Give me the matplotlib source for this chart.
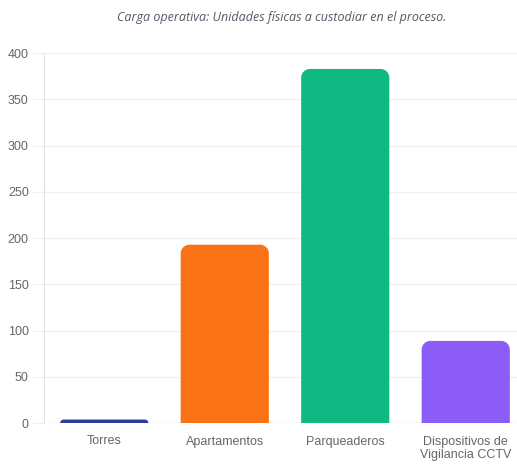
import matplotlib.pyplot as plt
import numpy as np
from matplotlib.path import Path
from matplotlib.patches import PathPatch

plt.rcParams['font.family'] = ['Liberation Sans', 'DejaVu Sans']

categorias = ['Torres', 'Apartamentos', 'Parqueaderos', 'Dispositivos de\nVigilancia CCTV']
unidades = [3, 192, 382, 88]
colores = ['#2c3f94', '#f97316', '#10b981', '#8b5cf6']
titulo = 'Carga operativa: Unidades físicas a custodiar en el proceso.'

W, H = 517, 466
fig = plt.figure(figsize=(W / 100, H / 100), dpi=100)
ax = fig.add_axes([44 / W, (H - 423) / H, 482 / W, 370 / H])

x = np.arange(len(categorias))
ax.set_xlim(-0.5, len(categorias) - 0.5)
ax.set_ylim(0, 400)

# px -> data units, for the corner radius
sx = (len(categorias)) / 482.0
sy = 400 / 370.0
r_px = 8
ancho = 0.72


def barra_redondeada(xc, h, color):
    x0, x1 = xc - ancho / 2, xc + ancho / 2
    r_h = min(r_px, h / sy)
    rx, ry = r_h * sx, r_h * sy
    k = 0.5523
    verts = [(x0, 0), (x0, h - ry),
             (x0, h - ry + k * ry), (x0 + rx - k * rx, h), (x0 + rx, h),
             (x1 - rx, h),
             (x1 - rx + k * rx, h), (x1, h - ry + k * ry), (x1, h - ry),
             (x1, 0), (x0, 0)]
    codes = [Path.MOVETO, Path.LINETO,
             Path.CURVE4, Path.CURVE4, Path.CURVE4,
             Path.LINETO,
             Path.CURVE4, Path.CURVE4, Path.CURVE4,
             Path.LINETO, Path.CLOSEPOLY]
    ax.add_patch(PathPatch(Path(verts, codes), facecolor=color,
                           edgecolor=color, lw=1, zorder=3))


for xi, v, c in zip(x, unidades, colores):
    barra_redondeada(xi, v, c)

ax.set_yticks(np.arange(0, 401, 50))
ax.set_xticks(x)
ax.set_xticklabels(categorias)
ax.grid(axis='y', color='#f0f0f0', lw=1, zorder=0)
ax.tick_params(axis='y', length=8, color='#f0f0f0', colors='#666666', labelsize=9, pad=3)
ax.tick_params(axis='x', length=0, colors='#666666', labelsize=9, pad=9)
for s in ['top', 'right', 'bottom']:
    ax.spines[s].set_visible(False)
ax.spines['left'].set_color('#e3e3e3')
ax.axhline(0, color='#e3e3e3', lw=1, zorder=2)

fig.text(282 / W, 1 - 17 / H, titulo, ha='center', va='center',
         fontsize=9, style='italic', color='#505a66', family='Open Sans')

fig.savefig('out.png', dpi=100)
